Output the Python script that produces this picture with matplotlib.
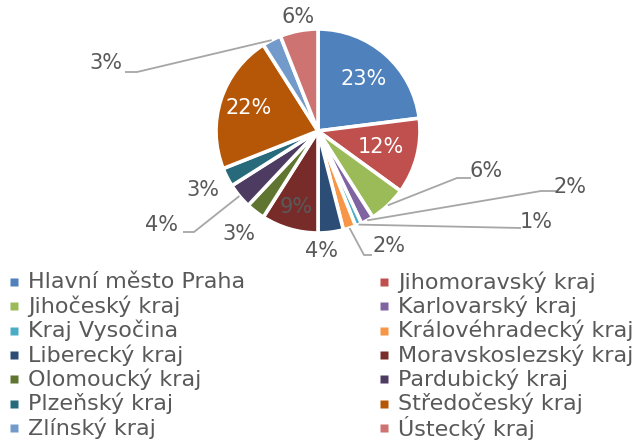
import numpy as np
import matplotlib
matplotlib.use("Agg")
import matplotlib.pyplot as plt

# data: share of each region (percent)
regions = ["Hlavní město Praha", "Jihomoravský kraj", "Jihočeský kraj",
           "Karlovarský kraj", "Kraj Vysočina", "Královéhradecký kraj",
           "Liberecký kraj", "Moravskoslezský kraj", "Olomoucký kraj",
           "Pardubický kraj", "Plzeňský kraj", "Středočeský kraj",
           "Zlínský kraj", "Ústecký kraj"]
shares = [23, 12, 6, 2, 1, 2, 4, 9, 3, 4, 3, 22, 3, 6]
colors = ["#4F81BD", "#C0504D", "#9BBB59", "#8064A2", "#4BACC6", "#F79646",
          "#2C4D75", "#772C2A", "#5F7530", "#4D3B62", "#276A7C", "#B65708",
          "#729ACA", "#CD7371"]

TXT = "#595959"
LINE = "#A6A6A6"
FS_PCT = 15
FS_LEG = 16

# layout (pixel coordinates, y down)
cx, cy, R = 318, 131, 102
inside = {0: (0.68, "white"), 1: (0.64, "white"), 11: (0.72, "white"), 7: (0.78, TXT)}
outside = {2: (486, 171), 3: (570, 187), 4: (536, 222), 5: (389, 246),
           6: (321, 251), 8: (239, 234), 9: (162, 225), 10: (203, 190),
           12: (106, 63), 13: (298, 17)}
# leader line: label-side end, elbow
leaders = {2: ((471, 178), (457, 178)), 3: ((556, 191), (541, 191)),
           4: ((521, 228), (521, 228)), 5: ((372, 255), (364, 255)),
           9: ((183, 232), (194, 232)), 12: ((125, 72), (137, 72))}

fig = plt.figure(figsize=(6.38, 4.46), dpi=100)
ax = fig.add_axes([0, 0, 1, 1])
ax.axis("off")

# y axis is inverted, so counterclock=True draws clockwise on screen
wedges, _ = ax.pie(shares, colors=colors, center=(cx, cy), radius=R,
                   startangle=-90, counterclock=True,
                   wedgeprops=dict(edgecolor="white", linewidth=2.6))
ax.set_xlim(0, 638)
ax.set_ylim(446, 0)
ax.set_aspect("equal")

total = sum(shares)
for i, w in enumerate(wedges):
    mid = np.deg2rad((w.theta1 + w.theta2) / 2)
    lbl = f"{round(shares[i] / total * 100)}%"
    if i in inside:
        f, c = inside[i]
        ax.text(cx + f * R * np.cos(mid), cy + f * R * np.sin(mid), lbl,
                color=c, fontsize=FS_PCT, ha="center", va="center")
    else:
        x, y = outside[i]
        ax.text(x, y, lbl, color=TXT, fontsize=FS_PCT, ha="center", va="center")
    if i in leaders:
        (x0, y0), (x1, y1) = leaders[i]
        ex, ey = cx + R * np.cos(mid), cy + R * np.sin(mid)
        ax.plot([x0, x1, ex], [y0, y1, ey], color=LINE, lw=1.3,
                solid_capstyle="butt")

# legend, two columns filled row by row
for i, name in enumerate(regions):
    row, col = divmod(i, 2)
    mx = 13.5 if col == 0 else 384
    y = 282 + row * 24.3
    ax.plot(mx, y, marker="s", ms=5.5, color=colors[i], mec="none")
    ax.text(mx + 14.5, y, name, color=TXT, fontsize=FS_LEG, ha="left", va="center")

fig.savefig("out.png", dpi=100)
